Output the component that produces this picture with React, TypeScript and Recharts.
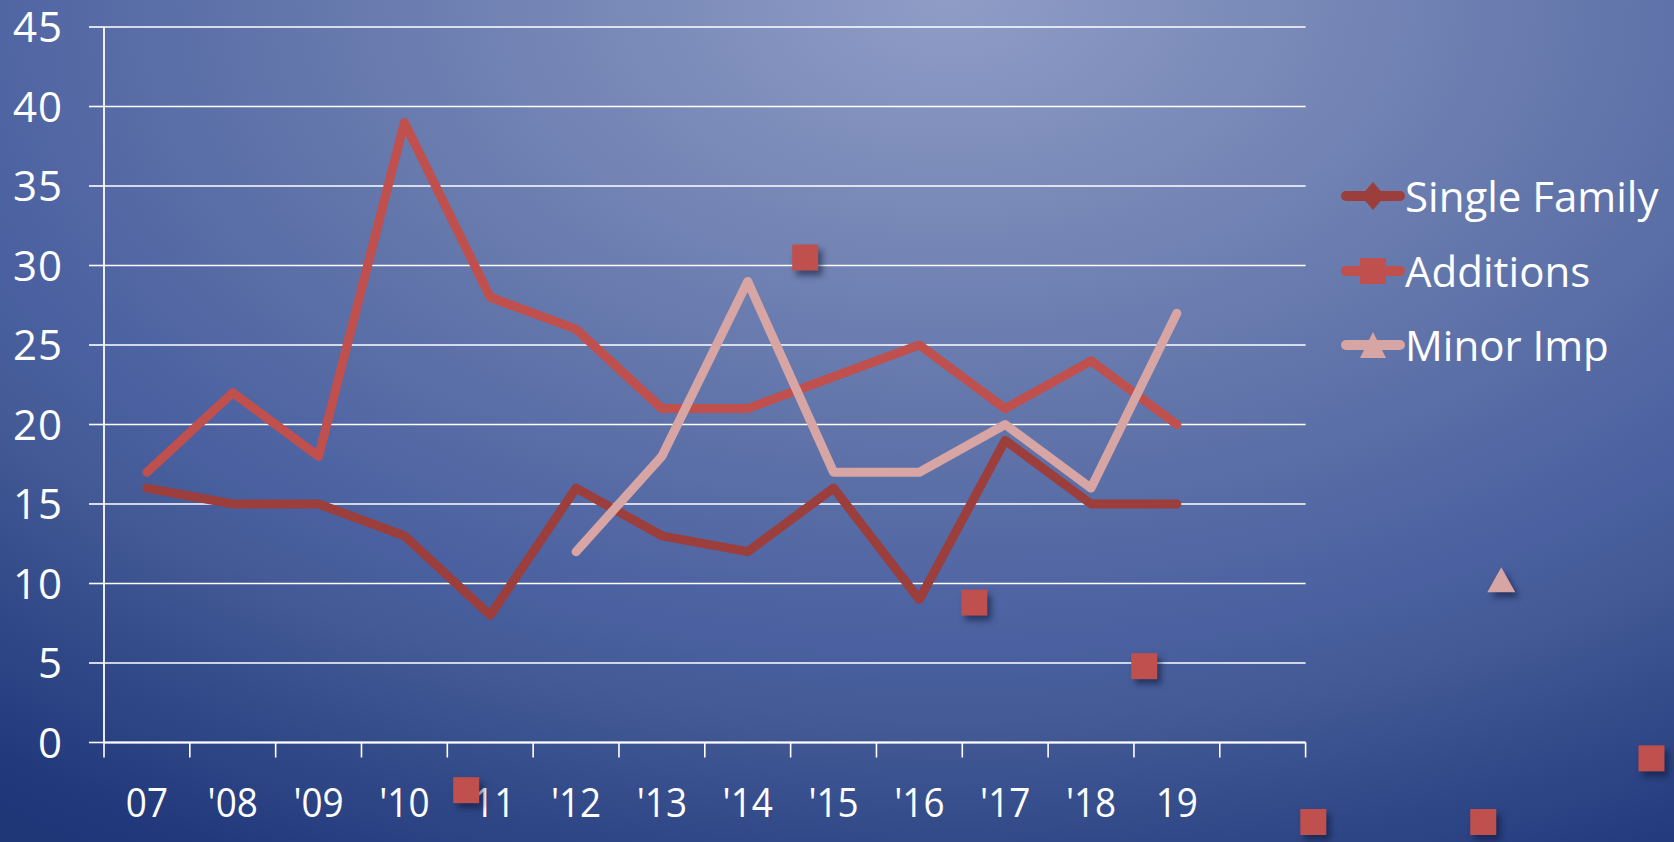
import {
  CartesianGrid,
  Legend,
  Line,
  LineChart,
  Scatter,
  ScatterChart,
  XAxis,
  YAxis,
} from "recharts";

const categories = ["07", "'08", "'09", "'10", "'11", "'12", "'13", "'14", "'15", "'16", "'17", "'18", "19", ""];
const singleFamily = [16, 15, 15, 13, 8, 16, 13, 12, 16, 9, 19, 15, 15, null];
const additions = [17, 22, 18, 39, 28, 26, 21, 21, 23, 25, 21, 24, 20, null];
const minorImp = [null, null, null, null, null, 12, 18, 29, 17, 17, 20, 16, 27, null];

const seriesNames = ["Single Family", "Additions", "Minor Imp"];
const seriesColors = ["#9c3e3c", "#c0504d", "#d6a5a4"];
const yTicks = [0, 5, 10, 15, 20, 25, 30, 35, 40, 45];

// stray markers of the picture, in category / value units
const strayAddX = [3.72, 7.67, 9.64, 11.62, 13.59, 15.57, 17.53];
const strayAddY = [-3.0, 30.5, 8.8, 4.8, -5.0, -5.0, -1.0];
const strayMinorX = [15.78];
const strayMinorY = [10.2];

const W = 1674;
const H = 842;
const plotLeft = 104;
const plotRight = 1305.6;
const plotTop = 27;
const plotBottom = 742.5;
const edgeAxisH = 15;
const labelAxisH = 60;
const font = "'Open Sans', sans-serif";

const data = categories.map((c, i) => ({
  year: c,
  pos: i,
  single: singleFamily[i],
  additions: additions[i],
  minor: minorImp[i],
}));

const edgeTicks = categories.map((_, i) => i).concat(categories.length);

// extend the main chart's scales over the whole picture for the overlay
const band = (plotRight - plotLeft) / categories.length;
const uMin = -plotLeft / band - 0.5;
const uMax = (W - plotLeft) / band - 0.5;
const unit = (plotBottom - plotTop) / (yTicks[yTicks.length - 1] - yTicks[0]);
const vMax = yTicks[yTicks.length - 1] + plotTop / unit;
const vMin = yTicks[0] - (H - plotBottom) / unit;

const strayAdditions = strayAddX.map((x, i) => ({ x, y: strayAddY[i] }));
const strayMinor = strayMinorX.map((x, i) => ({ x, y: strayMinorY[i] }));

function YTick({ x, y, payload }: any) {
  return (
    <text x={x} y={y} dy={15} textAnchor="end" fill="#fff" fontSize={42} letterSpacing={1} fontFamily={font}>
      {payload.value}
    </text>
  );
}

function XTick({ x, y, payload }: any) {
  return (
    <text
      transform={`translate(${x},${y}) scale(0.9,1)`}
      dy={60}
      textAnchor="middle"
      fill="#fff"
      fontSize={41}
      fontFamily={font}
    >
      {payload.value}
    </text>
  );
}

function NoTick() {
  return <g />;
}

function Marker({ i }: { i: number }) {
  const c = seriesColors[i];
  if (i === 0) return <polygon points="32,2 44,16 32,30 20,16" fill={c} />;
  if (i === 1) return <rect x={19} y={3} width={26} height={26} fill={c} />;
  return <polygon points="32,3 45,29 19,29" fill={c} />;
}

function LegendContent() {
  return (
    <div style={{ display: "flex", flexDirection: "column" }}>
      {seriesNames.map((name, i) => (
        <div key={name} style={{ height: 74.5, display: "flex", alignItems: "center" }}>
          <svg width={64} height={32}>
            <line x1={5} y1={16} x2={59} y2={16} stroke={seriesColors[i]} strokeWidth={10} strokeLinecap="round" />
            <Marker i={i} />
          </svg>
          <span style={{ color: "#fff", fontSize: 42, fontFamily: font, lineHeight: 1, whiteSpace: "nowrap" }}>
            {name}
          </span>
        </div>
      ))}
    </div>
  );
}

function StraySquare({ cx, cy }: any) {
  return (
    <rect
      x={cx - 13}
      y={cy - 13}
      width={26}
      height={26}
      fill="#c0504d"
      style={{ filter: "drop-shadow(4px 5px 3px rgba(10,20,50,0.55))" }}
    />
  );
}

function StrayTriangle({ cx, cy }: any) {
  return (
    <polygon
      points={`${cx},${cy - 13} ${cx + 14},${cy + 12} ${cx - 14},${cy + 12}`}
      fill="#d6a5a4"
      style={{ filter: "drop-shadow(4px 5px 3px rgba(10,20,50,0.55))" }}
    />
  );
}

export default function App() {
  return (
    <div
      style={{
        position: "absolute",
        left: 0,
        top: 0,
        width: W,
        height: H,
        overflow: "hidden",
        background:
          "radial-gradient(1616px 1010px at 950px 0px, #8f9dc6 0%, #6376ab 41%, #4a60a0 64%, #445b97 71%, #22397c 95%, #1f3677 100%)",
      }}
    >
      <div style={{ position: "absolute", left: 0, top: 0 }}>
        <LineChart
          width={W}
          height={H}
          data={data}
          margin={{
            top: plotTop,
            right: W - plotRight,
            bottom: H - plotBottom - edgeAxisH - labelAxisH,
            left: 0,
          }}
        >
          <CartesianGrid xAxisId="year" vertical={false} stroke="#ffffff" strokeWidth={1.6} />
          <XAxis
            xAxisId="edge"
            dataKey="pos"
            type="number"
            domain={[0, categories.length]}
            allowDataOverflow
            ticks={edgeTicks}
            interval={0}
            height={edgeAxisH}
            tickSize={15}
            tick={NoTick}
            axisLine={{ stroke: "#ffffff", strokeWidth: 1.8 }}
            tickLine={{ stroke: "#ffffff", strokeWidth: 1.6 }}
          />
          <XAxis
            xAxisId="year"
            dataKey="year"
            type="category"
            scale="band"
            interval={0}
            height={labelAxisH}
            tickSize={0}
            tickMargin={0}
            axisLine={false}
            tickLine={false}
            tick={XTick}
          />
          <YAxis
            width={plotLeft}
            domain={[0, 45]}
            ticks={yTicks}
            interval={0}
            tickSize={15}
            tickMargin={26}
            tick={YTick}
            axisLine={{ stroke: "#ffffff", strokeWidth: 1.8 }}
            tickLine={{ stroke: "#ffffff", strokeWidth: 1.6 }}
          />
          <Legend
            layout="vertical"
            align="center"
            verticalAlign="middle"
            content={LegendContent}
            wrapperStyle={{ left: 1341, top: 158.75, width: 330 }}
          />
          <Line
            xAxisId="year"
            dataKey="single"
            stroke={seriesColors[0]}
            strokeWidth={9}
            strokeLinejoin="round"
            strokeLinecap="round"
            dot={false}
            activeDot={false}
            isAnimationActive={false}
          />
          <Line
            xAxisId="year"
            dataKey="additions"
            stroke={seriesColors[1]}
            strokeWidth={9}
            strokeLinejoin="round"
            strokeLinecap="round"
            dot={false}
            activeDot={false}
            isAnimationActive={false}
          />
          <Line
            xAxisId="year"
            dataKey="minor"
            stroke={seriesColors[2]}
            strokeWidth={9}
            strokeLinejoin="round"
            strokeLinecap="round"
            dot={false}
            activeDot={false}
            isAnimationActive={false}
          />
        </LineChart>
      </div>
      <div style={{ position: "absolute", left: 0, top: 0 }}>
        <ScatterChart width={W} height={H} margin={{ top: 0, right: 0, bottom: 0, left: 0 }}>
          <XAxis type="number" dataKey="x" domain={[uMin, uMax]} allowDataOverflow hide />
          <YAxis type="number" dataKey="y" domain={[vMin, vMax]} allowDataOverflow hide />
          <Scatter data={strayAdditions} shape={StraySquare} isAnimationActive={false} />
          <Scatter data={strayMinor} shape={StrayTriangle} isAnimationActive={false} />
        </ScatterChart>
      </div>
    </div>
  );
}
